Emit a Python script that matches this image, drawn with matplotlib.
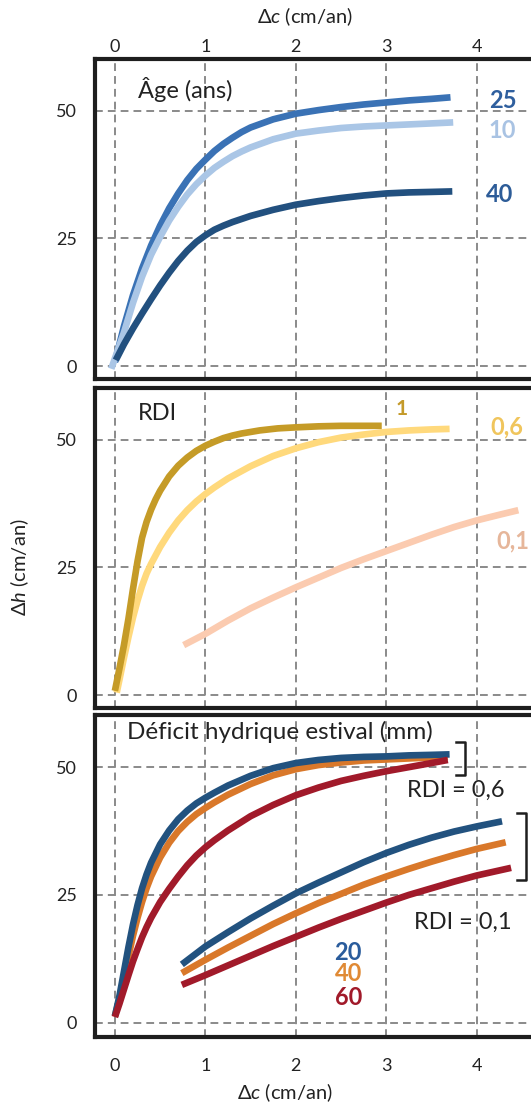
import matplotlib
matplotlib.use("Agg")
import matplotlib.pyplot as plt

plt.rcParams['font.family'] = ['Lato', 'DejaVu Sans']
plt.rcParams['mathtext.fontset'] = 'custom'
plt.rcParams['mathtext.rm'] = 'Lato'
plt.rcParams['mathtext.it'] = 'Lato:italic'

# --- Panel 1 : âge (ans)
age25_x = [0, 0.1, 0.2, 0.3, 0.4, 0.5, 0.6, 0.7, 0.8, 0.9, 1.0, 1.1, 1.2, 1.3, 1.4, 1.5, 1.75, 2.0,
           2.25, 2.5, 2.75, 3.0, 3.25, 3.5, 3.71]
age25_y = [0.8, 7.8, 13.9, 19.1, 23.6, 27.5, 30.9, 33.8, 36.4, 38.6, 40.4, 42.1, 43.5, 44.7, 45.8, 46.7,
           48.3, 49.4, 50.1, 50.7, 51.2, 51.6, 52.0, 52.3, 52.6]
age10_x = [-0.04, 0.1, 0.2, 0.3, 0.4, 0.5, 0.6, 0.7, 0.8, 0.9, 1.0, 1.1, 1.2, 1.3, 1.4, 1.5, 1.75, 2.0,
           2.25, 2.5, 2.75, 3.0, 3.25, 3.5, 3.74]
age10_y = [-0.5, 6.6, 12.4, 17.5, 21.8, 25.3, 28.5, 31.2, 33.6, 35.6, 37.3, 38.8, 40.0, 41.1, 42.0, 42.8,
           44.4, 45.5, 46.1, 46.6, 46.9, 47.1, 47.3, 47.5, 47.7]
age40_x = [0.01, 0.1, 0.2, 0.3, 0.4, 0.5, 0.6, 0.7, 0.8, 0.9, 1.0, 1.1, 1.2, 1.3, 1.4, 1.5, 1.75, 2.0,
           2.25, 2.5, 2.75, 3.0, 3.25, 3.5, 3.73]
age40_y = [1.2, 4.3, 7.4, 10.3, 13.1, 15.8, 18.3, 20.6, 22.6, 24.3, 25.6, 26.7, 27.5, 28.2, 28.8, 29.4,
           30.6, 31.6, 32.3, 32.9, 33.4, 33.8, 34.0, 34.1, 34.2]

# --- Panel 2 : RDI
rdi1_x = [0, 0.05, 0.1, 0.15, 0.2, 0.25, 0.3, 0.35, 0.4, 0.45, 0.5, 0.6, 0.7, 0.8, 0.9, 1.0, 1.1, 1.2,
          1.3, 1.4, 1.6, 1.8, 2.0, 2.25, 2.5, 2.95]
rdi1_y = [0.85, 5.2, 9.8, 15.0, 20.8, 26.2, 30.8, 33.9, 36.3, 38.3, 40.0, 42.8, 44.9, 46.5, 47.8, 48.8,
          49.6, 50.3, 50.8, 51.2, 51.8, 52.2, 52.4, 52.6, 52.7, 52.7]
rdi06_x = [0.02, 0.05, 0.1, 0.15, 0.2, 0.25, 0.3, 0.35, 0.4, 0.5, 0.6, 0.7, 0.8, 0.9, 1.0, 1.1, 1.25,
           1.5, 1.75, 2.0, 2.25, 2.5, 2.75, 3.0, 3.25, 3.5, 3.7]
rdi06_y = [0.5, 3.0, 7.3, 11.4, 15.2, 18.5, 21.4, 23.8, 25.7, 29.0, 31.8, 34.2, 36.2, 37.9, 39.35, 40.65,
           42.4, 44.8, 46.8, 48.3, 49.5, 50.4, 51.0, 51.5, 51.8, 52.0, 52.1]
rdi01_x = [0.76, 1.0, 1.25, 1.5, 1.75, 2.0, 2.25, 2.5, 2.75, 3.0, 3.25, 3.5, 3.75, 4.0, 4.25, 4.46]
rdi01_y = [9.8, 12.0, 14.6, 17.0, 19.1, 21.1, 23.0, 24.9, 26.6, 28.2, 29.8, 31.4, 32.9, 34.2, 35.3, 36.2]

# --- Panel 3 : déficit hydrique estival (mm), RDI = 0,6
d_x = [0, 0.05, 0.1, 0.15, 0.2, 0.25, 0.3, 0.35, 0.4, 0.5, 0.6, 0.7, 0.8, 0.9, 1.0, 1.1, 1.25, 1.5,
       1.75, 2.0, 2.25, 2.5, 2.75, 3.0, 3.25, 3.5]
d20a_x = d_x + [3.7]
d20a_y = [1.3, 5.2, 10.0, 14.8, 19.2, 23.0, 26.3, 29.0, 31.3, 34.9, 37.6, 39.8, 41.5, 42.9, 44.0, 45.0,
          46.4, 48.3, 49.8, 50.8, 51.4, 51.8, 52.0, 52.1, 52.3, 52.4, 52.5]
d40a_x = d_x + [3.68]
d40a_y = [1.3, 4.7, 8.8, 13.0, 17.0, 20.5, 23.6, 26.3, 28.6, 32.3, 35.2, 37.5, 39.3, 40.8, 42.0, 43.1,
          44.6, 46.7, 48.4, 49.6, 50.4, 50.9, 51.3, 51.5, 51.7, 51.9, 52.0]
d60a_x = d_x + [3.68]
d60a_y = [1.1, 3.7, 6.5, 9.3, 12.0, 14.4, 16.7, 18.7, 20.5, 23.6, 26.2, 28.6, 30.8, 32.7, 34.3, 35.7,
          37.6, 40.4, 42.6, 44.5, 46.0, 47.3, 48.3, 49.2, 50.0, 50.8, 51.4]
# RDI = 0,1
db_x = [0.74, 1.0, 1.25, 1.5, 1.75, 2.0, 2.25, 2.5, 2.75, 3.0, 3.25, 3.5, 3.75, 4.0]
d20b_x = db_x + [4.28]
d20b_y = [11.4, 14.9, 17.7, 20.4, 22.9, 25.3, 27.4, 29.4, 31.4, 33.2, 34.8, 36.2, 37.4, 38.4, 39.4]
d40b_x = db_x + [4.32]
d40b_y = [9.7, 12.3, 14.7, 17.0, 19.3, 21.4, 23.4, 25.2, 27.0, 28.6, 30.1, 31.5, 32.8, 34.0, 35.3]
d60b_x = db_x + [4.38]
d60b_y = [7.4, 9.3, 11.2, 13.1, 15.0, 16.8, 18.6, 20.3, 21.9, 23.5, 25.0, 26.3, 27.6, 28.8, 30.3]

xticks = [0, 1, 2, 3, 4]
yticks = [0, 25, 50]

W, H = 531, 1106
fig = plt.figure(figsize=(W / 100, H / 100), dpi=100)

def make_ax(top_px, bot_px, ylim):
    ax = fig.add_axes([95 / W, 1 - bot_px / H, 1 - 95 / W, (bot_px - top_px) / H])
    ax.set_xlim(-0.22, 4.6)
    ax.set_ylim(*ylim)
    ax.set_xticks(xticks)
    ax.set_yticks(yticks)
    ax.grid(True, color='#8a8a8a', linewidth=1.4, linestyle=(0, (4, 2.6)))
    ax.set_axisbelow(True)
    for side in ['left', 'top', 'bottom']:
        ax.spines[side].set_linewidth(3)
        ax.spines[side].set_color('#1e1e1e')
    ax.spines['right'].set_visible(False)
    ax.tick_params(length=0, labelsize=13, colors='#222222')
    ax.tick_params(axis='y', pad=13)
    return ax

def curve(ax, x, y, c):
    ax.plot(x, y, color=c, lw=4.8, solid_capstyle='butt', solid_joinstyle='round')

ax1 = make_ax(59, 379, (-2.5, 60.1))
ax2 = make_ax(388, 708, (-2.5, 60.1))
ax3 = make_ax(715, 1037, (-2.8, 60.2))

# panel 1
curve(ax1, age25_x, age25_y, '#3a72b5')
curve(ax1, age10_x, age10_y, '#aac6e6')
curve(ax1, age40_x, age40_y, '#22507f')
ax1.text(0.25, 54.2, 'Âge (ans)', fontsize=17, va='center', ha='left', color='#222222')
ax1.text(4.29, 51.9, '25', fontsize=17, fontweight='bold', color='#2f5f9e', ha='center', va='center')
ax1.text(4.28, 46.2, '10', fontsize=17, fontweight='bold', color='#a9c3e3', ha='center', va='center')
ax1.text(4.25, 33.5, '40', fontsize=17, fontweight='bold', color='#2d5c98', ha='center', va='center')
ax1.xaxis.tick_top()
ax1.tick_params(axis='x', pad=3)

# panel 2
curve(ax2, rdi01_x, rdi01_y, '#fbcbb0')
curve(ax2, rdi06_x, rdi06_y, '#ffd97c')
curve(ax2, rdi1_x, rdi1_y, '#c59b27')
ax2.text(0.25, 55.1, 'RDI', fontsize=17, va='center', ha='left', color='#222222')
ax2.text(3.17, 56.0, '1', fontsize=15, fontweight='bold', color='#c49a2a', ha='center', va='center')
ax2.text(4.33, 52.4, '0,6', fontsize=17, fontweight='bold', color='#f0c55c', ha='center', va='center')
ax2.text(4.22, 30.2, '0,1', fontsize=17, fontweight='bold', color='#e6b69a', ha='left', va='center')
ax2.tick_params(axis='x', labelbottom=False)

# panel 3
curve(ax3, d40a_x, d40a_y, '#d9782a')
curve(ax3, d20a_x, d20a_y, '#22527f')
curve(ax3, d60a_x, d60a_y, '#a11a2a')
curve(ax3, d20b_x, d20b_y, '#22527f')
curve(ax3, d40b_x, d40b_y, '#d9782a')
curve(ax3, d60b_x, d60b_y, '#a11a2a')
ax3.text(0.13, 56.8, 'Déficit hydrique estival (mm)', fontsize=17.5, va='center', ha='left', color='#222222')
ax3.text(2.58, 13.7, '20', fontsize=17, fontweight='bold', color='#2a5c9c', ha='center', va='center')
ax3.text(2.58, 9.6, '40', fontsize=17, fontweight='bold', color='#e08a35', ha='center', va='center')
ax3.text(2.58, 5.0, '60', fontsize=17, fontweight='bold', color='#a11a2a', ha='center', va='center')
ax3.plot([3.77, 3.87, 3.87, 3.77], [54.9, 54.9, 48.5, 48.5], color='#1e1e1e', lw=1.8, clip_on=False)
ax3.plot([4.44, 4.55, 4.55, 4.44], [41.1, 41.1, 27.9, 27.9], color='#1e1e1e', lw=1.8, clip_on=False)
ax3.text(3.23, 45.5, 'RDI = 0,6', fontsize=17, va='center', ha='left', color='#222222')
ax3.text(3.31, 19.7, 'RDI = 0,1', fontsize=17, va='center', ha='left', color='#222222')
ax3.tick_params(axis='x', pad=15)

fig.text(305 / W, 1 - 17 / H, 'Δ$c$ (cm/an)', fontsize=14.5, ha='center', va='center', color='#222222')
fig.text(285 / W, 1 - 1093 / H, 'Δ$c$ (cm/an)', fontsize=14.5, ha='center', va='center', color='#222222')
fig.text(20 / W, 1 - 567 / H, 'Δ$h$ (cm/an)', fontsize=14.5, ha='center', va='center', rotation=90, color='#222222')

fig.savefig('out.png', dpi=100)
